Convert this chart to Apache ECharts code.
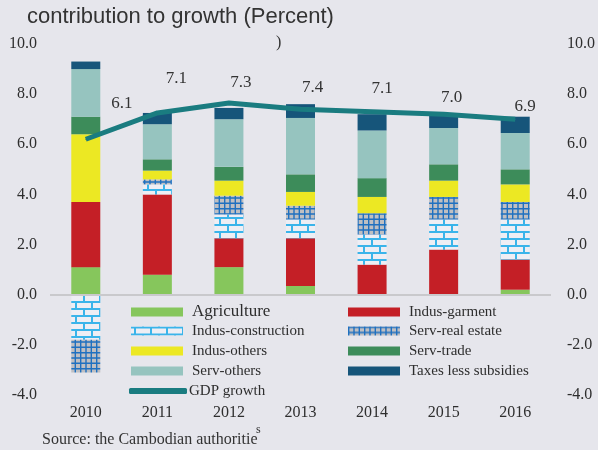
<!DOCTYPE html>
<html>
<head>
<meta charset="utf-8">
<script src="https://cdn.jsdelivr.net/npm/echarts@6/dist/echarts.min.js"></script>
<style>
html,body{margin:0;padding:0;background:#e6e6ec;}
#chart{width:598px;height:450px;}
</style>
</head>
<body>
<div id="chart"></div>
<script>
// ---- data ----
const years = ['2010','2011','2012','2013','2014','2015','2016'];
const agriculture  = [1.1, 0.8, 1.1, 0.35, 0, 0, 0.2];
const indusGarment = [2.6, 3.2, 1.15, 1.9, 1.2, 1.8, 1.2];
const indusConstruction = [-1.8, 0.4, 0.95, 0.75, 1.2, 1.2, 1.6];
const servRealEstate = [-1.3, 0.2, 0.75, 0.55, 0.85, 0.9, 0.7];
const indusOthers = [2.7, 0.35, 0.6, 0.55, 0.65, 0.65, 0.7];
const servTrade = [0.7, 0.45, 0.55, 0.7, 0.75, 0.65, 0.6];
const servOthers = [1.9, 1.4, 1.9, 2.25, 1.9, 1.45, 1.45];
const taxes = [0.3, 0.45, 0.45, 0.55, 0.65, 0.5, 0.65];
const gdpLine = [6.2, 7.25, 7.65, 7.4, 7.3, 7.2, 7.0];
const gdpLabels = ['6.1', '7.1', '7.3', '7.4', '7.1', '7.0', '6.9'];
const yTicks = [-4, -2, 0, 2, 4, 6, 8, 10];

// ---- styles ----
const SERIF = "'Liberation Serif', 'DejaVu Serif', serif";
const SANS = "'Liberation Sans', 'DejaVu Sans', sans-serif";
const TXT = '#2e2e2e';

function brickPattern() {
  const c = document.createElement('canvas');
  c.width = 16; c.height = 14;
  const g = c.getContext('2d');
  g.fillStyle = '#eeeef4'; g.fillRect(0, 0, 16, 14);
  g.strokeStyle = '#3ab4ea'; g.lineWidth = 2;
  g.beginPath();
  g.moveTo(0, 1); g.lineTo(16, 1);
  g.moveTo(0, 8); g.lineTo(16, 8);
  g.moveTo(4, 1); g.lineTo(4, 8);
  g.moveTo(12, 8); g.lineTo(12, 14);
  g.moveTo(12, 0); g.lineTo(12, 1);
  g.stroke();
  return c;
}
function gridPattern() {
  const c = document.createElement('canvas');
  c.width = 16; c.height = 16;
  const g = c.getContext('2d');
  g.fillStyle = '#bfbfc2'; g.fillRect(0, 0, 16, 16);
  g.strokeStyle = '#1f70c0'; g.lineWidth = 1.4;
  g.beginPath();
  [0.7, 6, 11.3].forEach(p => {
    g.moveTo(p, 0); g.lineTo(p, 16);
    g.moveTo(0, p); g.lineTo(16, p);
  });
  g.stroke();
  return c;
}

const chart = echarts.init(document.getElementById('chart'), null, {renderer: 'canvas'});

function barSeries(name, data, color, extra) {
  return Object.assign({
    name: name, type: 'bar', stack: 'total', data: data,
    barWidth: 29, itemStyle: {color: color}, emphasis: {disabled: true}
  }, extra || {});
}

const labelOffsets = [[36, -36], [19, -34], [12, -20], [12, -22], [10, -23], [8, -17], [10, -13]];

function legendRow(name, left, cy, fontSize, icon, iconW, iconH, padL) {
  const lh = fontSize + 2;
  return {
    data: [{name: name, icon: icon || 'rect'}], left: left, top: cy - lh / 2, padding: 0,
    itemWidth: iconW || 52, itemHeight: iconH || 9, selectedMode: false,
    textStyle: {fontFamily: SERIF, fontSize: fontSize, color: TXT, lineHeight: lh,
      padding: [0, 0, 0, padL === undefined ? 4 : padL]}
  };
}

const option = {
  backgroundColor: '#e6e6ec',
  animation: false,
  title: {
    text: 'contribution to growth (Percent)', left: 27, top: 6, padding: 0,
    textStyle: {fontFamily: SANS, fontSize: 22, fontWeight: 'normal', color: '#333'}
  },
  grid: {left: 50, right: 47, top: 44, bottom: 55, containLabel: false},
  legend: [
    legendRow('Agriculture', 131, 312, 17),
    legendRow('Indus-construction', 131, 331, 15),
    legendRow('Indus-others', 131, 351, 15),
    legendRow('Serv-others', 131, 371, 15),
    legendRow('GDP growth', 129, 391, 15, 'roundRect', 58, 6, -3),
    legendRow('Indus-garment', 348, 312, 15),
    legendRow('Serv-real estate', 348, 331, 15),
    legendRow('Serv-trade', 348, 351, 15),
    legendRow('Taxes less subsidies', 348, 371, 15)
  ],
  xAxis: {
    type: 'category', data: years,
    axisLine: {show: false, onZero: false}, axisTick: {show: false},
    axisLabel: {fontFamily: SERIF, fontSize: 16, color: TXT, margin: 10}
  },
  yAxis: [0, 1].map(i => ({
    type: 'value', min: yTicks[0], max: yTicks[yTicks.length - 1], interval: 2,
    position: i === 0 ? 'left' : 'right',
    splitLine: {show: false}, axisLine: {show: false}, axisTick: {show: false},
    axisLabel: {
      fontFamily: SERIF, fontSize: 16, color: TXT, margin: i === 0 ? 13 : 16,
      formatter: v => v.toFixed(1)
    }
  })),
  series: [
    barSeries('Agriculture', agriculture, '#86c65c', {
      markLine: {
        silent: true, symbol: 'none', label: {show: false},
        lineStyle: {color: '#c9c9cc', width: 2, type: 'solid'},
        data: [{yAxis: 0}]
      }
    }),
    barSeries('Indus-garment', indusGarment, '#c41f26'),
    barSeries('Indus-construction', indusConstruction, {image: brickPattern(), repeat: 'repeat'}),
    barSeries('Serv-real estate', servRealEstate, {image: gridPattern(), repeat: 'repeat'}),
    barSeries('Indus-others', indusOthers, '#ece823'),
    barSeries('Serv-trade', servTrade, '#3d8c5a'),
    barSeries('Serv-others', servOthers, '#96c4bf'),
    barSeries('Taxes less subsidies', taxes, '#16557a'),
    {
      name: 'GDP growth', type: 'line', data: gdpLine.map((v, i) => ({
        value: v,
        label: {formatter: gdpLabels[i], offset: labelOffsets[i]}
      })),
      symbol: 'circle', symbolSize: 1, showSymbol: true,
      lineStyle: {color: '#1a7c80', width: 5},
      itemStyle: {color: '#1a7c80'},
      label: {show: true, position: 'inside', fontFamily: SERIF, fontSize: 17, color: '#333'},
      emphasis: {disabled: true}, z: 5
    }
  ],
  graphic: [
    {type: 'text', left: 276, top: 35, style: {text: ')', font: "16px 'Liberation Serif'", fill: '#333'}},
    {type: 'text', left: 42, top: 432, style: {text: 'Source: the Cambodian authoritie', font: "16px 'Liberation Serif'", fill: '#333'}},
    {type: 'text', left: 256, top: 424, style: {text: 's', font: "12px 'Liberation Serif'", fill: '#333'}}
  ]
};
chart.setOption(option);
</script>
</body>
</html>
